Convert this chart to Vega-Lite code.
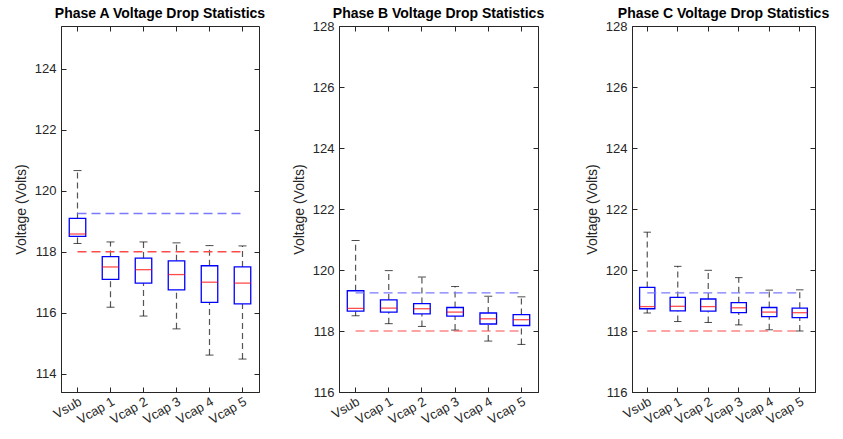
{
  "$schema": "https://vega.github.io/schema/vega-lite/v6.json",
  "background": "white",
  "padding": {"left": 13, "top": 6, "right": 0, "bottom": 0},
  "datasets": {
    "A": [
      {"cat": "Vsub", "low": 118.27, "q1": 118.50, "med": 118.58, "q3": 119.09, "high": 120.66},
      {"cat": "Vcap 1", "low": 116.18, "q1": 117.09, "med": 117.50, "q3": 117.84, "high": 118.32},
      {"cat": "Vcap 2", "low": 115.89, "q1": 116.97, "med": 117.41, "q3": 117.79, "high": 118.32},
      {"cat": "Vcap 3", "low": 115.47, "q1": 116.75, "med": 117.25, "q3": 117.70, "high": 118.29},
      {"cat": "Vcap 4", "low": 114.61, "q1": 116.34, "med": 117.00, "q3": 117.54, "high": 118.20},
      {"cat": "Vcap 5", "low": 114.48, "q1": 116.29, "med": 116.97, "q3": 117.50, "high": 118.19}
    ],
    "B": [
      {"cat": "Vsub", "low": 118.50, "q1": 118.65, "med": 118.74, "q3": 119.32, "high": 120.97},
      {"cat": "Vcap 1", "low": 118.24, "q1": 118.62, "med": 118.75, "q3": 119.02, "high": 119.98},
      {"cat": "Vcap 2", "low": 118.15, "q1": 118.56, "med": 118.73, "q3": 118.90, "high": 119.77},
      {"cat": "Vcap 3", "low": 118.03, "q1": 118.49, "med": 118.62, "q3": 118.77, "high": 119.46},
      {"cat": "Vcap 4", "low": 117.67, "q1": 118.23, "med": 118.40, "q3": 118.59, "high": 119.14},
      {"cat": "Vcap 5", "low": 117.56, "q1": 118.18, "med": 118.37, "q3": 118.54, "high": 119.12}
    ],
    "C": [
      {"cat": "Vsub", "low": 118.59, "q1": 118.73, "med": 118.80, "q3": 119.43, "high": 121.24},
      {"cat": "Vcap 1", "low": 118.31, "q1": 118.66, "med": 118.81, "q3": 119.10, "high": 120.12},
      {"cat": "Vcap 2", "low": 118.28, "q1": 118.65, "med": 118.80, "q3": 119.05, "high": 119.99},
      {"cat": "Vcap 3", "low": 118.20, "q1": 118.60, "med": 118.76, "q3": 118.93, "high": 119.75},
      {"cat": "Vcap 4", "low": 118.04, "q1": 118.47, "med": 118.62, "q3": 118.77, "high": 119.34},
      {"cat": "Vcap 5", "low": 118.00, "q1": 118.44, "med": 118.60, "q3": 118.75, "high": 119.35}
    ],
    "refs": [
      {"kind": "upper", "cat": "Vsub", "level": 119.25},
      {"kind": "upper", "cat": "Vcap 5", "level": 119.25},
      {"kind": "lower", "cat": "Vsub", "level": 118.0},
      {"kind": "lower", "cat": "Vcap 5", "level": 118.0}
    ]
  },
  "config": {
    "view": {"stroke": "#262626", "strokeWidth": 1},
    "axis": {
      "labelFont": "Liberation Sans", "titleFont": "Liberation Sans",
      "labelFontSize": 13, "titleFontSize": 14, "titleFontWeight": "normal",
      "labelColor": "#262626", "titleColor": "#262626",
      "domainColor": "#262626", "tickColor": "#262626",
      "grid": false, "tickSize": -5, "labelPadding": 10, "domain": true
    },
    "title": {"font": "Liberation Sans", "fontSize": 14, "fontWeight": "bold", "color": "#000000"}
  },
  "spacing": 39,
  "hconcat": [
    {
      "spacing": 24,
      "hconcat": [
        {
          "width": 198, "height": 366,
          "title": {"text": "Phase A Voltage Drop Statistics", "offset": 5},
          "resolve": {"axis": {"x": "independent", "y": "independent"}},
          "layer": [
            {
              "layer": [
                {"data": {"name": "A"}, "mark": {"type": "rule", "stroke": "#555555", "strokeWidth": 1.2, "strokeDash": [6, 4]},
                 "encoding": {"x": {"field": "cat", "type": "nominal", "scale": {"domain": ["Vsub", "Vcap 1", "Vcap 2", "Vcap 3", "Vcap 4", "Vcap 5"], "paddingInner": 0, "paddingOuter": 0}, "axis": {"title": null, "labelAngle": -30, "labelPadding": 8, "labelDx": 14.5, "labelDy": 8}},
                              "y": {"field": "q3", "type": "quantitative", "scale": {"domain": [113.4, 125.4], "nice": false, "zero": false}, "axis": {"title": "Voltage (Volts)", "values": [114, 116, 118, 120, 122, 124], "titlePadding": 6}},
                              "y2": {"field": "high"}}},
                {"data": {"name": "A"}, "mark": {"type": "rule", "stroke": "#555555", "strokeWidth": 1.2, "strokeDash": [6, 4]},
                 "encoding": {"x": {"field": "cat", "type": "nominal"}, "y": {"field": "low", "type": "quantitative"}, "y2": {"field": "q1"}}},
                {"data": {"name": "A"}, "mark": {"type": "tick", "size": 8, "thickness": 1, "color": "#000000"},
                 "encoding": {"x": {"field": "cat", "type": "nominal"}, "y": {"field": "high", "type": "quantitative"}}},
                {"data": {"name": "A"}, "mark": {"type": "tick", "size": 8, "thickness": 1, "color": "#000000"},
                 "encoding": {"x": {"field": "cat", "type": "nominal"}, "y": {"field": "low", "type": "quantitative"}}},
                {"data": {"name": "A"}, "mark": {"type": "bar", "width": {"band": 0.5}, "fill": "white", "stroke": "#0000ff", "strokeWidth": 1.3},
                 "encoding": {"x": {"field": "cat", "type": "nominal"}, "y": {"field": "q1", "type": "quantitative"}, "y2": {"field": "q3"}}},
                {"data": {"name": "A"}, "mark": {"type": "tick", "size": 16.5, "thickness": 1.3, "color": "#ff0000"},
                 "encoding": {"x": {"field": "cat", "type": "nominal"}, "y": {"field": "med", "type": "quantitative"}}},
                {"data": {"name": "refs"}, "mark": {"type": "line", "strokeWidth": 1.5, "strokeDash": [9, 5]},
                 "encoding": {"x": {"field": "cat", "type": "nominal"}, "y": {"field": "level", "type": "quantitative"},
                              "color": {"field": "kind", "type": "nominal", "scale": {"domain": ["upper", "lower"], "range": ["#7a7aff", "#ff4a4a"]}, "legend": null}}}
              ]
            },
            {"data": {"name": "A"}, "mark": {"type": "tick", "opacity": 0},
             "encoding": {"x": {"field": "cat", "type": "nominal", "axis": {"orient": "top", "labels": false, "domain": false, "title": null}},
                          "y": {"field": "med", "type": "quantitative", "axis": {"orient": "right", "labels": false, "domain": false, "title": null, "values": [114, 116, 118, 120, 122, 124]}}}}
          ]
        },
        {
          "width": 199, "height": 366,
          "title": {"text": "Phase B Voltage Drop Statistics", "offset": -1},
          "resolve": {"axis": {"x": "independent", "y": "independent"}},
          "layer": [
            {
              "layer": [
                {"data": {"name": "B"}, "mark": {"type": "rule", "stroke": "#555555", "strokeWidth": 1.2, "strokeDash": [6, 4]},
                 "encoding": {"x": {"field": "cat", "type": "nominal", "scale": {"domain": ["Vsub", "Vcap 1", "Vcap 2", "Vcap 3", "Vcap 4", "Vcap 5"], "paddingInner": 0, "paddingOuter": 0}, "axis": {"title": null, "labelAngle": -30, "labelPadding": 8, "labelDx": 14.5, "labelDy": 8}},
                              "y": {"field": "q3", "type": "quantitative", "scale": {"domain": [116, 128], "nice": false, "zero": false}, "axis": {"title": "Voltage (Volts)", "values": [116, 118, 120, 122, 124, 126, 128], "titlePadding": 6}},
                              "y2": {"field": "high"}}},
                {"data": {"name": "B"}, "mark": {"type": "rule", "stroke": "#555555", "strokeWidth": 1.2, "strokeDash": [6, 4]},
                 "encoding": {"x": {"field": "cat", "type": "nominal"}, "y": {"field": "low", "type": "quantitative"}, "y2": {"field": "q1"}}},
                {"data": {"name": "B"}, "mark": {"type": "tick", "size": 8, "thickness": 1, "color": "#000000"},
                 "encoding": {"x": {"field": "cat", "type": "nominal"}, "y": {"field": "high", "type": "quantitative"}}},
                {"data": {"name": "B"}, "mark": {"type": "tick", "size": 8, "thickness": 1, "color": "#000000"},
                 "encoding": {"x": {"field": "cat", "type": "nominal"}, "y": {"field": "low", "type": "quantitative"}}},
                {"data": {"name": "B"}, "mark": {"type": "bar", "width": {"band": 0.5}, "fill": "white", "stroke": "#0000ff", "strokeWidth": 1.3},
                 "encoding": {"x": {"field": "cat", "type": "nominal"}, "y": {"field": "q1", "type": "quantitative"}, "y2": {"field": "q3"}}},
                {"data": {"name": "B"}, "mark": {"type": "tick", "size": 16.5, "thickness": 1.3, "color": "#ff0000"},
                 "encoding": {"x": {"field": "cat", "type": "nominal"}, "y": {"field": "med", "type": "quantitative"}}},
                {"data": {"name": "refs"}, "mark": {"type": "line", "strokeWidth": 1.2, "strokeDash": [9, 5]},
                 "encoding": {"x": {"field": "cat", "type": "nominal"}, "y": {"field": "level", "type": "quantitative"},
                              "color": {"field": "kind", "type": "nominal", "scale": {"domain": ["upper", "lower"], "range": ["#4a4aff", "#ff3a3a"]}, "legend": null}}}
              ]
            },
            {"data": {"name": "B"}, "mark": {"type": "tick", "opacity": 0},
             "encoding": {"x": {"field": "cat", "type": "nominal", "axis": {"orient": "top", "labels": false, "domain": false, "title": null}},
                          "y": {"field": "med", "type": "quantitative", "axis": {"orient": "right", "labels": false, "domain": false, "title": null, "values": [116, 118, 120, 122, 124, 126, 128]}}}}
          ]
        }
      ]
    },
    {
      "width": 183, "height": 366,
      "title": {"text": "Phase C Voltage Drop Statistics", "offset": -1},
      "resolve": {"axis": {"x": "independent", "y": "independent"}},
      "layer": [
        {
          "layer": [
            {"data": {"name": "C"}, "mark": {"type": "rule", "stroke": "#555555", "strokeWidth": 1.2, "strokeDash": [6, 4]},
             "encoding": {"x": {"field": "cat", "type": "nominal", "scale": {"domain": ["Vsub", "Vcap 1", "Vcap 2", "Vcap 3", "Vcap 4", "Vcap 5"], "paddingInner": 0, "paddingOuter": 0}, "axis": {"title": null, "labelAngle": -30, "labelPadding": 8, "labelDx": 14.5, "labelDy": 8}},
                          "y": {"field": "q3", "type": "quantitative", "scale": {"domain": [116, 128], "nice": false, "zero": false}, "axis": {"title": "Voltage (Volts)", "values": [116, 118, 120, 122, 124, 126, 128], "titlePadding": 6}},
                          "y2": {"field": "high"}}},
            {"data": {"name": "C"}, "mark": {"type": "rule", "stroke": "#555555", "strokeWidth": 1.2, "strokeDash": [6, 4]},
             "encoding": {"x": {"field": "cat", "type": "nominal"}, "y": {"field": "low", "type": "quantitative"}, "y2": {"field": "q1"}}},
            {"data": {"name": "C"}, "mark": {"type": "tick", "size": 7.5, "thickness": 1, "color": "#000000"},
             "encoding": {"x": {"field": "cat", "type": "nominal"}, "y": {"field": "high", "type": "quantitative"}}},
            {"data": {"name": "C"}, "mark": {"type": "tick", "size": 7.5, "thickness": 1, "color": "#000000"},
             "encoding": {"x": {"field": "cat", "type": "nominal"}, "y": {"field": "low", "type": "quantitative"}}},
            {"data": {"name": "C"}, "mark": {"type": "bar", "width": {"band": 0.5}, "fill": "white", "stroke": "#0000ff", "strokeWidth": 1.3},
             "encoding": {"x": {"field": "cat", "type": "nominal"}, "y": {"field": "q1", "type": "quantitative"}, "y2": {"field": "q3"}}},
            {"data": {"name": "C"}, "mark": {"type": "tick", "size": 15.3, "thickness": 1.3, "color": "#ff0000"},
             "encoding": {"x": {"field": "cat", "type": "nominal"}, "y": {"field": "med", "type": "quantitative"}}},
            {"data": {"name": "refs"}, "mark": {"type": "line", "strokeWidth": 1.2, "strokeDash": [9, 5]},
             "encoding": {"x": {"field": "cat", "type": "nominal"}, "y": {"field": "level", "type": "quantitative"},
                          "color": {"field": "kind", "type": "nominal", "scale": {"domain": ["upper", "lower"], "range": ["#4a4aff", "#ff3a3a"]}, "legend": null}}}
          ]
        },
        {"data": {"name": "C"}, "mark": {"type": "tick", "opacity": 0},
         "encoding": {"x": {"field": "cat", "type": "nominal", "axis": {"orient": "top", "labels": false, "domain": false, "title": null}},
                      "y": {"field": "med", "type": "quantitative", "axis": {"orient": "right", "labels": false, "domain": false, "title": null, "values": [116, 118, 120, 122, 124, 126, 128]}}}}
      ]
    }
  ]
}
